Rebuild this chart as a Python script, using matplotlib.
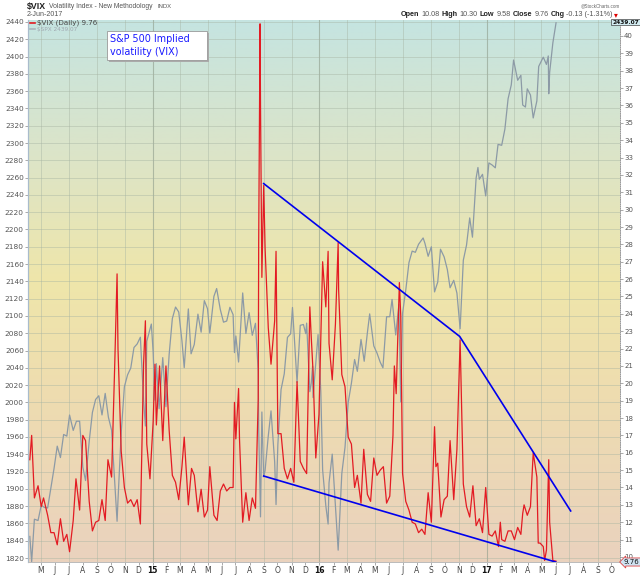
import numpy as np
import pandas as pd
import matplotlib
matplotlib.use("Agg")
import matplotlib.pyplot as plt
from matplotlib.colors import LinearSegmentedColormap
from matplotlib.patches import Rectangle

# S&P 500 closes (left axis)
spx_dates = ["2014-04-07", "2014-04-11", "2014-04-17", "2014-04-25", "2014-05-02", "2014-05-09", "2014-05-16",
             "2014-05-23", "2014-05-30", "2014-06-06", "2014-06-13", "2014-06-20", "2014-06-27", "2014-07-03",
             "2014-07-11", "2014-07-18", "2014-07-25", "2014-08-01", "2014-08-07", "2014-08-15", "2014-08-22",
             "2014-08-29", "2014-09-05", "2014-09-12", "2014-09-19", "2014-09-26", "2014-10-03", "2014-10-10",
             "2014-10-15", "2014-10-17", "2014-10-24", "2014-10-31", "2014-11-07", "2014-11-14", "2014-11-21",
             "2014-11-28", "2014-12-05", "2014-12-12", "2014-12-16", "2014-12-19", "2014-12-29", "2015-01-02",
             "2015-01-06", "2015-01-09", "2015-01-15", "2015-01-23", "2015-01-30", "2015-02-06", "2015-02-13",
             "2015-02-20", "2015-02-27", "2015-03-06", "2015-03-11", "2015-03-20", "2015-03-26", "2015-04-02",
             "2015-04-10", "2015-04-17", "2015-04-24", "2015-05-01", "2015-05-06", "2015-05-15", "2015-05-21",
             "2015-05-29", "2015-06-05", "2015-06-12", "2015-06-19", "2015-06-26", "2015-06-29", "2015-07-02",
             "2015-07-08", "2015-07-17", "2015-07-24", "2015-07-31", "2015-08-07", "2015-08-14", "2015-08-20",
             "2015-08-21", "2015-08-25", "2015-08-28", "2015-09-01", "2015-09-04", "2015-09-11", "2015-09-17",
             "2015-09-25", "2015-09-28", "2015-10-02", "2015-10-09", "2015-10-16", "2015-10-23", "2015-10-30",
             "2015-11-03", "2015-11-13", "2015-11-20", "2015-11-27", "2015-12-02", "2015-12-04", "2015-12-11",
             "2015-12-14", "2015-12-17", "2015-12-18", "2015-12-29", "2016-01-04", "2016-01-08", "2016-01-15",
             "2016-01-20", "2016-01-22", "2016-01-29", "2016-02-05", "2016-02-11", "2016-02-19", "2016-02-26",
             "2016-03-04", "2016-03-11", "2016-03-18", "2016-03-24", "2016-04-01", "2016-04-08", "2016-04-15",
             "2016-04-20", "2016-04-29", "2016-05-06", "2016-05-13", "2016-05-19", "2016-05-27", "2016-06-03",
             "2016-06-08", "2016-06-16", "2016-06-23", "2016-06-27", "2016-07-01", "2016-07-08", "2016-07-15",
             "2016-07-22", "2016-07-29", "2016-08-05", "2016-08-15", "2016-08-19", "2016-08-26", "2016-09-02",
             "2016-09-09", "2016-09-16", "2016-09-22", "2016-09-30", "2016-10-07", "2016-10-13", "2016-10-21",
             "2016-10-28", "2016-11-04", "2016-11-11", "2016-11-18", "2016-11-25", "2016-12-01", "2016-12-09",
             "2016-12-13", "2016-12-16", "2016-12-23", "2016-12-30", "2017-01-06", "2017-01-13", "2017-01-20",
             "2017-01-26", "2017-02-03", "2017-02-10", "2017-02-17", "2017-02-24", "2017-03-01", "2017-03-10",
             "2017-03-17", "2017-03-21", "2017-03-27", "2017-03-31", "2017-04-07", "2017-04-13", "2017-04-21",
             "2017-04-25", "2017-05-05", "2017-05-12", "2017-05-16", "2017-05-17", "2017-05-19", "2017-05-26",
             "2017-06-02"]
spx_close = [1845.0, 1815.7, 1864.9, 1863.4, 1881.1, 1878.5, 1877.9,
             1900.5, 1923.6, 1949.4, 1936.2, 1962.9, 1961.0, 1985.4,
             1967.6, 1978.2, 1978.3, 1925.2, 1909.6, 1955.1, 1988.4,
             2003.4, 2007.7, 1985.5, 2010.4, 1982.9, 1967.9, 1906.1,
             1862.5, 1886.8, 1964.6, 2018.1, 2031.9, 2039.8, 2063.5,
             2067.6, 2075.4, 2002.3, 1972.7, 2070.7, 2090.6, 2058.2,
             2002.6, 2044.8, 1992.7, 2051.8, 1995.0, 2055.5, 2097.0,
             2110.3, 2104.5, 2071.3, 2040.2, 2108.1, 2056.2, 2067.0,
             2102.1, 2081.2, 2117.7, 2108.3, 2080.2, 2122.7, 2131.7,
             2107.4, 2092.8, 2094.1, 2110.0, 2101.5, 2057.6, 2076.8,
             2046.7, 2126.6, 2079.7, 2103.8, 2077.6, 2091.5, 2035.7,
             1970.9, 1867.6, 1988.9, 1913.9, 1921.2, 1961.1, 1990.2,
             1931.3, 1881.8, 1951.4, 2014.9, 2033.1, 2075.2, 2079.4,
             2109.8, 2023.0, 2089.2, 2090.1, 2079.5, 2091.7, 2012.4,
             2021.9, 2041.9, 2005.6, 2078.4, 2012.7, 1922.0, 1880.3,
             1859.3, 1906.9, 1940.2, 1880.1, 1829.1, 1917.8, 1948.1,
             2000.0, 2022.2, 2049.6, 2035.9, 2072.8, 2047.6, 2080.7,
             2102.4, 2065.3, 2057.1, 2046.6, 2040.0, 2099.1, 2099.1,
             2119.1, 2078.0, 2113.3, 2000.5, 2103.0, 2129.9, 2161.7,
             2175.0, 2173.6, 2182.9, 2190.2, 2183.9, 2169.0, 2180.0,
             2127.8, 2139.2, 2177.2, 2168.3, 2153.7, 2132.6, 2141.2,
             2126.4, 2085.2, 2164.5, 2181.9, 2213.4, 2191.1, 2259.5,
             2271.7, 2258.1, 2263.8, 2238.8, 2277.0, 2274.6, 2271.3,
             2298.4, 2297.4, 2316.1, 2351.2, 2367.3, 2396.0, 2372.6,
             2378.3, 2344.0, 2341.6, 2362.7, 2355.5, 2329.0, 2348.7,
             2388.6, 2399.3, 2390.9, 2400.7, 2357.0, 2381.7, 2415.8,
             2439.1]

# VIX closes (right axis)
vix_dates = ["2014-04-07", "2014-04-11", "2014-04-17", "2014-04-25", "2014-05-02", "2014-05-07", "2014-05-16",
             "2014-05-23", "2014-05-30", "2014-06-06", "2014-06-13", "2014-06-20", "2014-06-27", "2014-07-03",
             "2014-07-11", "2014-07-17", "2014-07-25", "2014-08-01", "2014-08-07", "2014-08-15", "2014-08-22",
             "2014-08-29", "2014-09-05", "2014-09-12", "2014-09-19", "2014-09-25", "2014-10-03", "2014-10-10",
             "2014-10-15", "2014-10-17", "2014-10-24", "2014-10-31", "2014-11-07", "2014-11-14", "2014-11-21",
             "2014-11-28", "2014-12-05", "2014-12-12", "2014-12-16", "2014-12-19", "2014-12-26", "2015-01-02",
             "2015-01-06", "2015-01-09", "2015-01-16", "2015-01-23", "2015-01-30", "2015-02-06", "2015-02-13",
             "2015-02-20", "2015-02-27", "2015-03-06", "2015-03-11", "2015-03-20", "2015-03-27", "2015-04-02",
             "2015-04-10", "2015-04-17", "2015-04-24", "2015-05-01", "2015-05-06", "2015-05-15", "2015-05-22",
             "2015-05-29", "2015-06-05", "2015-06-12", "2015-06-19", "2015-06-26", "2015-06-29", "2015-07-02",
             "2015-07-08", "2015-07-10", "2015-07-17", "2015-07-24", "2015-07-31", "2015-08-07", "2015-08-14",
             "2015-08-20", "2015-08-21", "2015-08-24", "2015-08-25", "2015-08-28", "2015-09-01", "2015-09-04",
             "2015-09-11", "2015-09-17", "2015-09-25", "2015-09-28", "2015-10-02", "2015-10-09", "2015-10-16",
             "2015-10-23", "2015-10-30", "2015-11-06", "2015-11-13", "2015-11-20", "2015-11-27", "2015-12-04",
             "2015-12-11", "2015-12-14", "2015-12-18", "2015-12-24", "2015-12-31", "2016-01-08", "2016-01-15",
             "2016-01-20", "2016-01-22", "2016-01-29", "2016-02-05", "2016-02-11", "2016-02-12", "2016-02-19",
             "2016-02-26", "2016-03-04", "2016-03-11", "2016-03-18", "2016-03-24", "2016-04-01", "2016-04-07",
             "2016-04-15", "2016-04-22", "2016-04-29", "2016-05-06", "2016-05-13", "2016-05-20", "2016-05-27",
             "2016-06-03", "2016-06-10", "2016-06-13", "2016-06-17", "2016-06-24", "2016-06-27", "2016-07-01",
             "2016-07-08", "2016-07-15", "2016-07-22", "2016-07-29", "2016-08-05", "2016-08-12", "2016-08-19",
             "2016-08-26", "2016-09-02", "2016-09-09", "2016-09-12", "2016-09-16", "2016-09-23", "2016-09-30",
             "2016-10-07", "2016-10-13", "2016-10-21", "2016-10-28", "2016-11-04", "2016-11-11", "2016-11-18",
             "2016-11-25", "2016-12-02", "2016-12-09", "2016-12-16", "2016-12-23", "2016-12-30", "2017-01-06",
             "2017-01-13", "2017-01-20", "2017-01-27", "2017-01-31", "2017-02-03", "2017-02-10", "2017-02-17",
             "2017-02-24", "2017-03-03", "2017-03-10", "2017-03-17", "2017-03-21", "2017-03-24", "2017-03-31",
             "2017-04-07", "2017-04-13", "2017-04-21", "2017-04-24", "2017-04-28", "2017-05-05", "2017-05-08",
             "2017-05-12", "2017-05-17", "2017-05-19", "2017-05-26", "2017-06-02"]
vix_close = [15.6, 17.0, 13.4, 14.1, 12.9, 13.4, 12.4,
             11.4, 11.4, 10.7, 12.2, 10.9, 11.3, 10.3,
             12.1, 14.5, 12.7, 17.0, 16.7, 13.2, 11.5,
             12.0, 12.1, 13.3, 12.1, 15.6, 14.6, 21.2,
             26.3, 22.0, 16.1, 14.0, 13.1, 13.3, 12.9,
             13.3, 11.9, 21.1, 23.6, 16.5, 14.5, 17.8,
             21.1, 17.6, 21.0, 16.7, 21.0, 17.3, 14.7,
             14.3, 13.3, 15.2, 16.9, 13.0, 15.1, 14.7,
             12.6, 13.9, 12.3, 12.7, 15.2, 12.4, 12.1,
             13.8, 14.2, 13.8, 14.0, 14.0, 18.9, 16.8,
             19.7, 16.8, 12.0, 13.7, 12.1, 13.4, 12.8,
             19.1, 28.0, 40.7, 36.0, 26.1, 31.4, 27.8,
             23.2, 21.1, 23.6, 27.6, 17.1, 17.1, 15.1,
             14.5, 15.1, 14.3, 20.1, 15.5, 15.1, 14.8,
             24.4, 22.7, 20.7, 15.7, 18.2, 27.0, 24.4,
             27.6, 22.3, 20.2, 23.4, 28.1, 25.4, 20.5,
             19.8, 16.9, 16.5, 14.0, 14.7, 13.1, 16.2,
             13.6, 13.2, 15.7, 14.7, 15.0, 15.2, 13.1,
             13.5, 17.0, 21.0, 19.4, 25.8, 23.9, 14.8,
             13.2, 12.7, 12.0, 11.9, 11.4, 11.6, 11.3,
             13.7, 12.0, 17.5, 15.2, 15.4, 12.3, 13.3,
             13.5, 16.7, 13.3, 16.2, 22.5, 14.2, 12.9,
             12.3, 14.1, 11.8, 12.2, 11.4, 14.0, 11.3,
             11.2, 11.5, 10.6, 12.0, 11.0, 10.9, 11.5,
             11.5, 11.0, 11.7, 11.3, 12.5, 13.0, 12.4,
             12.9, 16.0, 14.6, 10.8, 10.8, 10.6, 9.8,
             10.4, 15.6, 12.0, 9.8, 9.76]

# hand drawn trend lines on the VIX
upper_dates = ["2015-09-01", "2016-11-03", "2017-07-04"]
upper_vix = [31.5, 22.7, 12.65]
lower_dates = ["2015-09-01", "2017-06-01"]
lower_vix = [14.66, 9.71]

month_ticks = pd.date_range("2014-05-01", "2017-10-01", freq="MS")
month_letters = "JFMAMJJASOND"
month_labels = [("%02d" % (t.year % 100)) if t.month == 1 else month_letters[t.month - 1] for t in month_ticks]

quote_parts = [("Open", True), ("10.08", False), ("High", True), ("10.30", False), ("Low", True),
               ("9.58", False), ("Close", True), ("9.76", False), ("Chg", True), ("-0.13 (-1.31%)", False)]


def fx(px):
    return px / 640.0


def fy(py):
    return 1 - py / 576.0


fig = plt.figure(figsize=(6.4, 5.76), dpi=100)
fig.patch.set_facecolor("white")
renderer = fig.canvas.get_renderer()


def fit_text(x, y, s, width, **kw):
    # put text at pixel x, y and pick the font size that gives the wanted pixel width
    t = fig.text(fx(x), fy(y), s, fontsize=10, va="center", **kw)
    w = t.get_window_extent(renderer).width
    t.set_fontsize(10 * width / w)
    return t


def text_row(x, y, parts, size, gap, font):
    for s, bold in parts:
        t = fig.text(fx(x), fy(y), s, fontsize=size, va="center", family=font,
                     color="#222222" if bold else "#555555", fontweight="bold" if bold else "normal")
        x += t.get_window_extent(renderer).width + gap
    return x


ax = fig.add_axes([fx(28), fy(562), 592 / 640, 542 / 576])

# background gradient
cmap = LinearSegmentedColormap.from_list("bg", [(0, "#ead2be"), (0.3, "#eedcb0"), (0.52, "#efe6aa"),
                                                (0.75, "#dce4c8"), (1.0, "#c5e4e1")])
grad = np.linspace(0, 1, 256).reshape(-1, 1)
ax.imshow(grad, extent=[0, 1, 0, 1], transform=ax.transAxes, aspect="auto", cmap=cmap,
          origin="lower", zorder=0)

xmin, xmax = np.datetime64("2014-04-03"), np.datetime64("2017-10-20")

# grid
for t in month_ticks:
    if t.month == 1:
        ax.axvline(t, color="#8d9c8a", lw=0.8, alpha=0.6, zorder=1)
    elif t.month % 2 == 1:
        ax.axvline(t, color="#a5b3a2", lw=0.6, alpha=0.5, zorder=1)
for v in range(1820, 2441, 20):
    ax.axhline(v, color="#a5b3a2", lw=0.6, alpha=0.5, zorder=1)

ax.plot(np.array(spx_dates, dtype="datetime64[D]"), spx_close, color="#8c9aa6", lw=0.9, zorder=2)
ax.set_xlim(xmin, xmax)
ax.set_ylim(1815.4, 2442.3)
ax.set_yticks(range(1820, 2441, 20))
ax.tick_params(axis="y", labelsize=5.3, labelcolor="#555555", color="#888888", length=2, width=0.5, pad=1)
ax.set_xticks(month_ticks)
ax.set_xticklabels(month_labels)
ax.tick_params(axis="x", labelsize=5.5, labelcolor="#444444", color="#888888", length=2, width=0.5, pad=1)
for lab, t in zip(ax.get_xticklabels(), month_ticks):
    if t.month == 1:
        lab.set_fontweight("bold")
        lab.set_color("#111111")

ax2 = ax.twinx()
ax2.plot(np.array(vix_dates, dtype="datetime64[D]"), vix_close, color="#e31b23", lw=0.9, zorder=3)
ax2.plot(np.array(upper_dates, dtype="datetime64[D]"), upper_vix, color="#0000ee", lw=1.2, zorder=4)
ax2.plot(np.array(lower_dates, dtype="datetime64[D]"), lower_vix, color="#0000ee", lw=1.2, zorder=4)
ax2.set_xlim(xmin, xmax)
ax2.set_ylim(9.71, 40.92)
ax2.set_yticks(range(10, 41))
ax2.tick_params(axis="y", labelsize=5, labelcolor="#555555", color="#888888", length=2, width=0.5, pad=1)

for a in (ax, ax2):
    a.spines["top"].set_visible(False)
    a.spines["left"].set_color("#a9bccc")
    a.spines["right"].set_color("#999999")
    a.spines["right"].set_linestyle(":")
    a.spines["bottom"].set_color("#bbbbbb")
    a.spines["left"].set_linewidth(0.8)
    a.spines["right"].set_linewidth(0.6)
    a.spines["bottom"].set_linewidth(0.6)

# legend
fig.add_artist(plt.Line2D([fx(30), fx(35)], [fy(23), fy(23)], color="#e31b23", lw=1.2))
fit_text(37, 23, r"\$VIX (Daily) 9.76", 60, color="#444444")
fig.add_artist(plt.Line2D([fx(30), fx(35)], [fy(29), fy(29)], color="#aab4bc", lw=1.2))
fit_text(37, 29, r"\$SPX 2439.07", 40, color="#a0a8b0")

# header
fit_text(27, 6, r"\$VIX", 19, fontweight="bold", color="#222222", family="Liberation Sans")
fit_text(49, 6.5, "Volatility Index - New Methodology", 104, color="#555555", family="Liberation Sans")
fit_text(158, 6.5, "INDX", 14, color="#555555", family="Liberation Sans")
fit_text(27, 14.5, "2-Jun-2017", 36, color="#555555", family="Liberation Sans")
fit_text(581, 5.5, "@StockCharts.com", 39, color="#666666", family="Liberation Sans")

# quote line, sized to run from x=401 to x=612
row_end = text_row(401, 15, quote_parts, 10, 2, "Liberation Sans")
for t in fig.texts[-len(quote_parts):]:
    t.remove()
size = 10 * (211 - 2 * (len(quote_parts) - 1)) / (row_end - 401 - 2 * len(quote_parts))
text_row(401, 15, quote_parts, size, 2, "Liberation Sans")
fig.text(fx(614), fy(15), "\u25be", fontsize=5.5, color="#dd0000", va="center")

# annotation box
fig.add_artist(Rectangle((fx(109), fy(62)), 100 / 640, 29 / 576, facecolor="#aaaaaa", edgecolor="none"))
fig.add_artist(Rectangle((fx(107), fy(60)), 100 / 640, 29 / 576, facecolor="white", edgecolor="#999999", lw=0.6))
fig.text(fx(110), fy(39), "S&P 500 Implied", fontsize=6.9, color="#1a1aff", va="center")
fig.text(fx(110), fy(52), "volatility (VIX)", fontsize=6.9, color="#1a1aff", va="center")

# last value tags
fig.text(fx(639), fy(22), "2439.07", fontsize=4.2, color="#111111", va="center", ha="right", fontweight="bold",
         bbox=dict(boxstyle="square,pad=0.15", facecolor="#d2ecf2", edgecolor="#444444", lw=0.5))
fig.text(fx(624), fy(562), "9.76", fontsize=5, color="#111111", va="center",
         bbox=dict(boxstyle="larrow,pad=0.15", facecolor="#cfe3f2", edgecolor="#dd4444", lw=0.6))

fig.savefig("out.png", dpi=100)
